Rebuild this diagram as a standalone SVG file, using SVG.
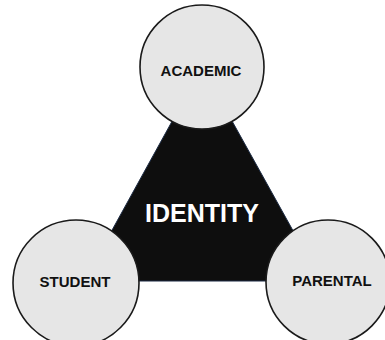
<svg xmlns="http://www.w3.org/2000/svg" width="385" height="340" viewBox="0 0 385 340">
  <style>
    .node circle { fill: #e6e6e6; stroke: #1a1a1a; stroke-width: 1.6; }
    .label { font-family: "Liberation Sans", Arial, sans-serif; font-weight: bold; font-size: 15px; fill: #111111; text-anchor: middle; }
    .core { font-family: "Liberation Sans", Arial, sans-serif; font-weight: bold; font-size: 25px; fill: #ffffff; text-anchor: middle; }
  </style>
  <rect width="385" height="340" fill="#ffffff"/>

  <!-- central identity triangle linking the three spheres -->
  <g id="connectors">
    <polygon points="202,67 84,281 321,281" fill="#0e0e0e" stroke="#1c2b44" stroke-width="1"/>
  </g>

  <g id="identity">
    <text class="core" x="202" y="222">IDENTITY</text>
  </g>

  <g id="academic" class="node">
    <circle cx="202" cy="67" r="62"/>
    <text class="label" x="201" y="76">ACADEMIC</text>
  </g>

  <g id="student" class="node">
    <circle cx="76" cy="283" r="63"/>
    <text class="label" x="75" y="287">STUDENT</text>
  </g>

  <g id="parental" class="node">
    <circle cx="328" cy="282" r="62"/>
    <text class="label" x="332" y="286">PARENTAL</text>
  </g>
</svg>
